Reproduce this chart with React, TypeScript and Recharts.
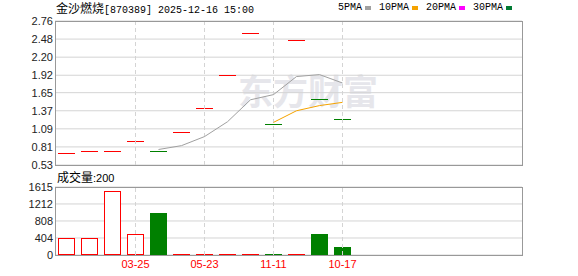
import React from 'react';
import { ComposedChart, Bar, Line, XAxis, YAxis, CartesianGrid, ReferenceLine } from 'recharts';

// daily closes (open = close on every day, so each candle is a flat dash)
const dates = ['', '', '', '03-25', '', '', '05-23', '', '', '11-11', '', '', '10-17'];
const prices = [0.71, 0.74, 0.74, 0.9, 0.74, 1.04, 1.41, 1.92, 2.57, 1.16, 2.46, 1.55, 1.24];
const volumes = [400, 400, 1520, 500, 1000, 12, 8, 10, 9, 15, 11, 500, 200];
const ma5 = [null, null, null, null, 0.77, 0.83, 0.97, 1.2, 1.54, 1.62, 1.9, 1.93, 1.8];
const ma10 = [null, null, null, null, null, null, null, null, null, 1.19, 1.37, 1.45, 1.5];

const priceTicks = [0.53, 0.81, 1.09, 1.37, 1.65, 1.92, 2.2, 2.48, 2.76];
const volTicks = [0, 404, 808, 1212, 1615];
const markDays = [3, 6, 9, 12];

const legendNames = ['5PMA', '10PMA', '20PMA', '30PMA'];
const legendColors = ['#a0a0a0', '#f5a300', '#ff00ff', '#007a33'];

const RED = '#ff0000';
const GREEN = '#008000';
const GRID = '#d4d4d4';
const FRAME = '#999999';
const SLOTS = 20;
const MONO = '"Liberation Mono", "DejaVu Sans Mono", monospace';
const CJK = '"Noto Sans CJK SC", sans-serif';

const rows = Array.from({ length: SLOTS }, (_, i) => ({
  i,
  price: prices[i] ?? null,
  vol: volumes[i] ?? null,
  ma5: ma5[i] ?? null,
  ma10: ma10[i] ?? null,
  up: i === 0 || prices[i] >= prices[i - 1],
}));

const Dash = (props: any) => {
  const { x, y, width, index } = props;
  if (prices[index] == null) return null;
  const yy = Math.floor(y) + 0.5;
  return (
    <line
      x1={x}
      x2={x + width}
      y1={yy}
      y2={yy}
      stroke={rows[index].up ? RED : GREEN}
      strokeWidth={1}
      shapeRendering="crispEdges"
    />
  );
};

const VolBar = (props: any) => {
  const { x, y, width, height, index } = props;
  if (volumes[index] == null) return null;
  const bottom = Math.round(y + height);
  let top = Math.round(y);
  if (bottom - top < 1) top = bottom - 1;
  const up = rows[index].up;
  const color = up ? RED : GREEN;
  if (!up || bottom - top <= 2) {
    return <rect x={x} y={top} width={width} height={bottom - top} fill={color} shapeRendering="crispEdges" />;
  }
  return (
    <rect x={x + 0.5} y={top + 0.5} width={width - 1} height={bottom - top - 1} fill="#fff" stroke={color} strokeWidth={1} />
  );
};

const tickStyle = { fontSize: 11, fill: '#222', fontFamily: '"Liberation Sans", Arial, sans-serif' };

export default function App() {
  return (
    <div style={{ position: 'absolute', left: 0, top: 0, width: 578, height: 276, background: '#fff', overflow: 'hidden' }}>
      {/* watermark */}
      <div style={{ position: 'absolute', left: 238, top: 70, fontFamily: CJK, fontWeight: 700, fontSize: 35, lineHeight: '40px', color: '#e6e6eb' }}>
        东方财富
      </div>

      {/* title */}
      <div style={{ position: 'absolute', left: 56, top: 1, lineHeight: '14px', whiteSpace: 'nowrap', color: '#000' }}>
        <span style={{ fontFamily: CJK, fontSize: 12 }}>金沙燃烧</span>
        <span style={{ fontFamily: MONO, fontSize: 10 }}>[870389] 2025-12-16 15:00</span>
      </div>

      {/* legend */}
      <div style={{ position: 'absolute', left: 338, top: 2, display: 'flex', whiteSpace: 'nowrap' }}>
        {legendNames.map((n, k) => (
          <div key={n} style={{ display: 'flex', alignItems: 'center', marginRight: 8 }}>
            <span style={{ fontFamily: MONO, fontSize: 10, lineHeight: '12px', color: '#000' }}>{n}</span>
            <span style={{ display: 'inline-block', width: 6, height: 4, background: legendColors[k], marginLeft: 3 }} />
          </div>
        ))}
      </div>

      <div style={{ position: 'absolute', left: 0, top: 0 }}>
        <ComposedChart width={578} height={170} data={rows} margin={{ top: 21, right: 56, bottom: 5, left: 0 }}>
          <CartesianGrid vertical={false} stroke={GRID} />
          <XAxis dataKey="i" type="category" hide padding={{ left: 0, right: 7 }} />
          <YAxis
            domain={[0.53, 2.76]}
            ticks={priceTicks}
            tickFormatter={(v: number) => v.toFixed(2)}
            width={55}
            tickSize={0}
            tickMargin={2}
            axisLine={false}
            tickLine={false}
            tick={tickStyle}
            interval={0}
          />
          {markDays.map((d) => (
            <ReferenceLine key={d} x={d} stroke={GRID} strokeDasharray="4 3" />
          ))}
          <Bar dataKey="price" barSize={17} shape={<Dash />} isAnimationActive={false} />
          <Line dataKey="ma5" stroke={legendColors[0]} strokeWidth={1} dot={false} isAnimationActive={false} />
          <Line dataKey="ma10" stroke={legendColors[1]} strokeWidth={1} dot={false} isAnimationActive={false} />
        </ComposedChart>
      </div>

      <div style={{ position: 'absolute', left: 57, top: 169, lineHeight: '16px', whiteSpace: 'nowrap', color: '#000' }}>
        <span style={{ fontFamily: CJK, fontSize: 12 }}>成交量</span>
        <span style={{ fontFamily: '"Liberation Sans", Arial, sans-serif', fontSize: 11 }}>:{volumes[volumes.length - 1]}</span>
      </div>

      <div style={{ position: 'absolute', left: 0, top: 170 }}>
        <ComposedChart width={578} height={106} data={rows} margin={{ top: 17, right: 56, bottom: 0, left: 0 }}>
          <CartesianGrid vertical={false} stroke={GRID} />
          <XAxis
            dataKey="i"
            type="category"
            padding={{ left: 0, right: 7 }}
            height={21}
            interval={0}
            tickSize={0}
            tickMargin={5}
            axisLine={false}
            tickLine={false}
            tickFormatter={(i: number) => dates[i] ?? ''}
            tick={{ ...tickStyle, fill: RED }}
          />
          <YAxis
            domain={[0, 1615]}
            ticks={volTicks}
            width={55}
            tickSize={0}
            tickMargin={2}
            axisLine={false}
            tickLine={false}
            tick={tickStyle}
            interval={0}
          />
          {markDays.map((d) => (
            <ReferenceLine key={d} x={d} stroke={GRID} strokeDasharray="4 3" />
          ))}
          <Bar dataKey="vol" barSize={17} shape={<VolBar />} isAnimationActive={false} />
        </ComposedChart>
      </div>

      {/* plot frames */}
      <div style={{ position: 'absolute', left: 55, top: 21, width: 468, height: 145, boxSizing: 'border-box', border: `1px solid ${FRAME}`, pointerEvents: 'none' }} />
      <div style={{ position: 'absolute', left: 55, top: 187, width: 468, height: 69, boxSizing: 'border-box', border: `1px solid ${FRAME}`, pointerEvents: 'none' }} />
    </div>
  );
}
